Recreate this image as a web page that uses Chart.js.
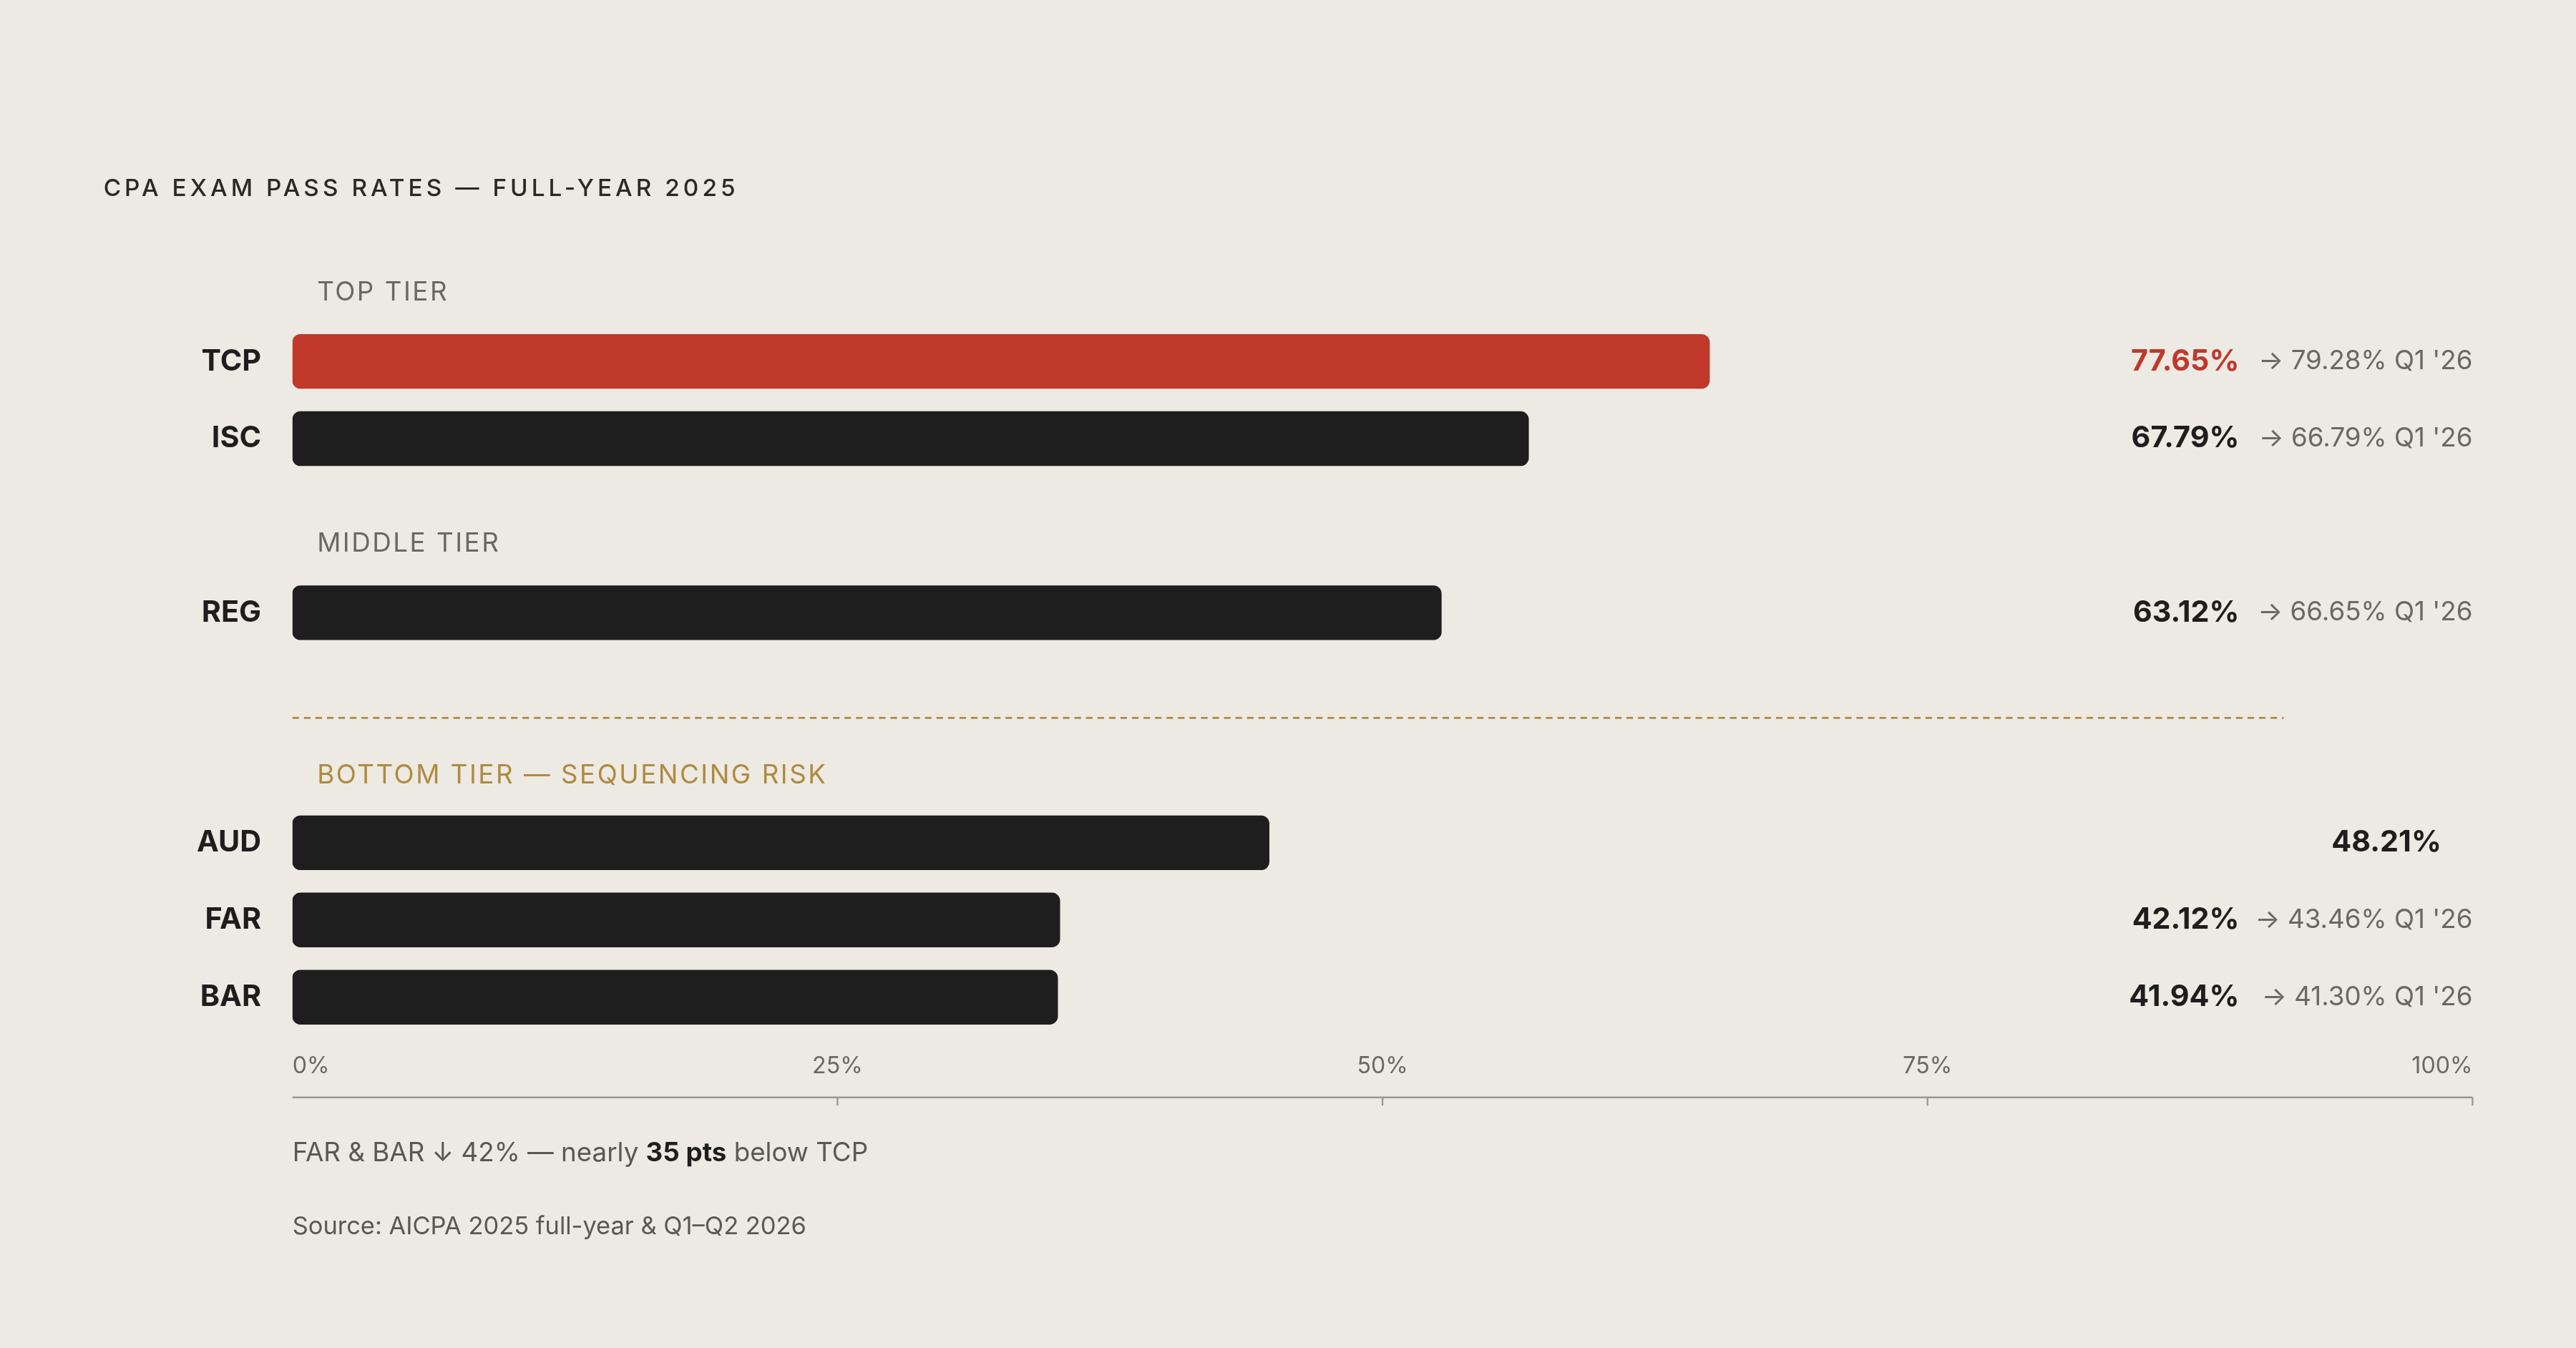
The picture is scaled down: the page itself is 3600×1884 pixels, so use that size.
<!DOCTYPE html>
<html>
<head>
<meta charset="utf-8">
<script src="https://cdn.jsdelivr.net/npm/chart.js@4/dist/chart.umd.min.js"></script>
<style>
  html, body { margin: 0; padding: 0; background: #edeae3; }
  #wrap { width: 3600px; height: 1884px; }
</style>
</head>
<body>
<div id="wrap"><canvas id="passChart"></canvas></div>
<script>
// exam sections, top to bottom
const sections = ['TCP', 'ISC', 'REG', 'AUD', 'FAR', 'BAR'];
// full-year 2025 pass rates (printed labels)
const passRates = [77.65, 67.79, 63.12, 48.21, 42.12, 41.94];
// bar lengths as drawn against the 0-100% axis
const barLengths = [65.0, 56.7, 52.7, 44.8, 35.2, 35.1];
// Q1 '26 follow-ups (null = none shown)
const q1Rates = ['79.28%', '66.79%', '66.65%', null, '43.46%', '41.30%'];
const xTicks = [0, 25, 50, 75, 100];

// row slots on the vertical scale (layout)
const rowSlots = [220, 267, 373, 513, 560, 607];
const tiers = [
  { label: 'TOP TIER', slot: 178, color: '#6b6862' },
  { label: 'MIDDLE TIER', slot: 331, color: '#6b6862' },
  { label: 'BOTTOM TIER — SEQUENCING RISK', slot: 472, color: '#b08a3e' },
];

const S = 2.296;
const FONT = 'Inter, "DejaVu Sans", sans-serif';

const overlay = {
  id: 'overlay',
  afterDatasetsDraw(chart) {
    const c = chart.ctx;
    const x = chart.scales.x, y = chart.scales.y;
    c.save();
    c.textBaseline = 'middle';

    // title
    c.fillStyle = '#2a2926';
    c.font = `500 ${14.5 * S}px ${FONT}`;
    c.letterSpacing = `${2.2 * S}px`;
    c.textAlign = 'left';
    c.fillText('CPA EXAM PASS RATES — FULL-YEAR 2025', 63 * S, 115 * S);

    // tier headers
    c.font = `400 ${16 * S}px ${FONT}`;
    c.letterSpacing = `${1.1 * S}px`;
    tiers.forEach(t => {
      c.fillStyle = t.color;
      c.fillText(t.label, 193 * S, y.getPixelForValue(t.slot));
    });
    c.letterSpacing = '0px';

    // dashed separator
    c.strokeStyle = '#b08a3e';
    c.lineWidth = 1.2 * S;
    c.setLineDash([4 * S, 3 * S]);
    c.beginPath();
    c.moveTo(x.getPixelForValue(0), y.getPixelForValue(437));
    c.lineTo(1390 * S, y.getPixelForValue(437));
    c.stroke();
    c.setLineDash([]);

    // row labels and values
    sections.forEach((s, i) => {
      const py = y.getPixelForValue(rowSlots[i]);
      c.font = `700 ${18 * S}px ${FONT}`;
      c.textAlign = 'right';
      c.fillStyle = '#1e1e1e';
      c.fillText(s, 159 * S, py);
      c.fillStyle = i === 0 ? '#c0392b' : '#1e1e1e';
      const vx = q1Rates[i] ? 1363 * S : 1486 * S;
      c.fillText(passRates[i].toFixed(2) + '%', vx, py);
      if (q1Rates[i]) {
        c.font = `400 ${16 * S}px ${FONT}`;
        c.fillStyle = '#6b6862';
        c.fillText("→ " + q1Rates[i] + " Q1 '26", 1505 * S, py);
      }
    });

    // x axis: labels above the line
    const axisY = y.getPixelForValue(668);
    c.strokeStyle = '#9a978f';
    c.lineWidth = 1 * S;
    c.beginPath();
    c.moveTo(x.getPixelForValue(0), axisY);
    c.lineTo(x.getPixelForValue(100), axisY);
    c.stroke();
    c.font = `400 ${14 * S}px ${FONT}`;
    c.fillStyle = '#6b6862';
    xTicks.forEach(t => {
      const px = x.getPixelForValue(t);
      c.textAlign = t === 0 ? 'left' : t === 100 ? 'right' : 'center';
      c.fillText(t + '%', px, 649 * S);
      if (t > 0) {
        c.beginPath();
        c.moveTo(px, axisY);
        c.lineTo(px, axisY + 5 * S);
        c.stroke();
      }
    });

    // footnotes
    c.textAlign = 'left';
    c.font = `400 ${16 * S}px ${FONT}`;
    c.fillStyle = '#5a5853';
    let fx = 178 * S;
    const part1 = 'FAR & BAR ↓ 42% — nearly ';
    c.fillText(part1, fx, 702 * S);
    fx += c.measureText(part1).width;
    c.font = `700 ${16 * S}px ${FONT}`;
    c.fillStyle = '#1e1e1e';
    c.fillText('35 pts', fx, 702 * S);
    fx += c.measureText('35 pts').width;
    c.font = `400 ${16 * S}px ${FONT}`;
    c.fillStyle = '#5a5853';
    c.fillText(' below TCP', fx, 702 * S);
    c.font = `400 ${15 * S}px ${FONT}`;
    c.fillText('Source: AICPA 2025 full-year & Q1–Q2 2026', 178 * S, 747 * S);
    c.restore();
  }
};

const ctx = document.getElementById('passChart').getContext('2d');
new Chart(ctx, {
  type: 'bar',
  data: {
    datasets: [{
      data: barLengths.map((v, i) => ({ x: v, y: rowSlots[i] })),
      backgroundColor: sections.map((s, i) => i === 0 ? '#c0392b' : '#1e1e1e'),
      borderRadius: 5 * S,
      borderSkipped: false,
      barThickness: 33 * S,
    }],
  },
  options: {
    indexAxis: 'y',
    responsive: true,
    maintainAspectRatio: false,
    devicePixelRatio: 1,
    animation: false,
    layout: { padding: { left: 178 * S, right: 3600 - 1505 * S, top: 150 * S, bottom: 1884 - 668 * S } },
    scales: {
      x: { type: 'linear', min: 0, max: 100, display: false, offset: false },
      y: { type: 'linear', min: 150, max: 668, reverse: true, display: false, offset: false, grace: 0 },
    },
    plugins: { legend: { display: false }, tooltip: { enabled: false } },
  },
  plugins: [overlay],
});
</script>
</body>
</html>
